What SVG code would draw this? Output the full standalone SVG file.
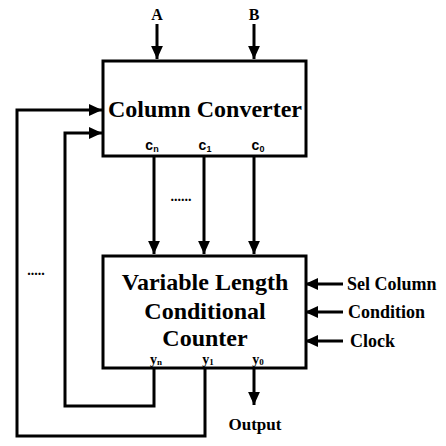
<svg xmlns="http://www.w3.org/2000/svg" width="446" height="446" viewBox="0 0 446 446">
<style>
.box{fill:#fff;stroke:#000;stroke-width:3}
.ln{fill:none;stroke:#000;stroke-width:3}
.t{font-family:"Liberation Serif","Times New Roman",serif;font-weight:bold;fill:#000}
.s{font-family:"Liberation Sans",sans-serif;font-weight:bold;fill:#000}
</style>
<defs>
<marker id="ah" markerWidth="4.4" markerHeight="4" refX="4.4" refY="2" orient="auto" markerUnits="strokeWidth">
<path d="M0,0 L4.4,2 L0,4 Z" fill="#000"/>
</marker>
</defs>
<g id="connectors">
<path class="ln" d="M157,24 V59" marker-end="url(#ah)"/>
<path class="ln" d="M254,24 V59" marker-end="url(#ah)"/>
<path class="ln" d="M154,157 V254" marker-end="url(#ah)"/>
<path class="ln" d="M204,157 V254" marker-end="url(#ah)"/>
<path class="ln" d="M254,157 V254" marker-end="url(#ah)"/>
<path class="ln" d="M254,368 V405" marker-end="url(#ah)"/>
<path class="ln" d="M154,368 V406 H65 V133 H102" marker-end="url(#ah)"/>
<path class="ln" d="M205,368 V436 H17 V110 H102" marker-end="url(#ah)"/>
<path class="ln" d="M343,284 H305" marker-end="url(#ah)"/>
<path class="ln" d="M343,312 H305" marker-end="url(#ah)"/>
<path class="ln" d="M343,341 H305" marker-end="url(#ah)"/>
</g>
<g id="column-converter">
<rect class="box" x="103" y="61" width="203" height="95"/>
<text class="t" x="205" y="117" font-size="24" text-anchor="middle">Column Converter</text>
<text class="s" x="152" y="150" font-size="14" text-anchor="middle">c<tspan font-size="9" dy="2">n</tspan></text>
<text class="s" x="205" y="150" font-size="14" text-anchor="middle">c<tspan font-size="9" dy="2">1</tspan></text>
<text class="s" x="258" y="150" font-size="14" text-anchor="middle">c<tspan font-size="9" dy="2">0</tspan></text>
</g>
<g id="counter">
<rect class="box" x="103" y="256" width="203" height="112"/>
<text class="t" x="205" y="290" font-size="24" text-anchor="middle">Variable Length</text>
<text class="t" x="205" y="319" font-size="24" text-anchor="middle">Conditional</text>
<text class="t" x="205" y="346" font-size="24" text-anchor="middle">Counter</text>
<text class="t" x="156" y="364" font-size="14" text-anchor="middle">y<tspan font-size="9" dy="1">n</tspan></text>
<text class="t" x="208" y="364" font-size="14" text-anchor="middle">y<tspan font-size="9" dy="1">1</tspan></text>
<text class="t" x="258" y="364" font-size="14" text-anchor="middle">y<tspan font-size="9" dy="1">0</tspan></text>
</g>
<g id="labels">
<text class="t" x="157" y="20" font-size="16" text-anchor="middle">A</text>
<text class="t" x="254" y="20" font-size="16" text-anchor="middle">B</text>
<text class="t" x="347" y="290" font-size="18">Sel Column</text>
<text class="t" x="348" y="318" font-size="18">Condition</text>
<text class="t" x="350" y="347" font-size="18">Clock</text>
<text class="t" x="255" y="430" font-size="17" text-anchor="middle">Output</text>
<text class="t" x="181" y="201" font-size="14" text-anchor="middle">......</text>
<text class="t" x="36" y="275" font-size="14" text-anchor="middle">.....</text>
</g>
</svg>
